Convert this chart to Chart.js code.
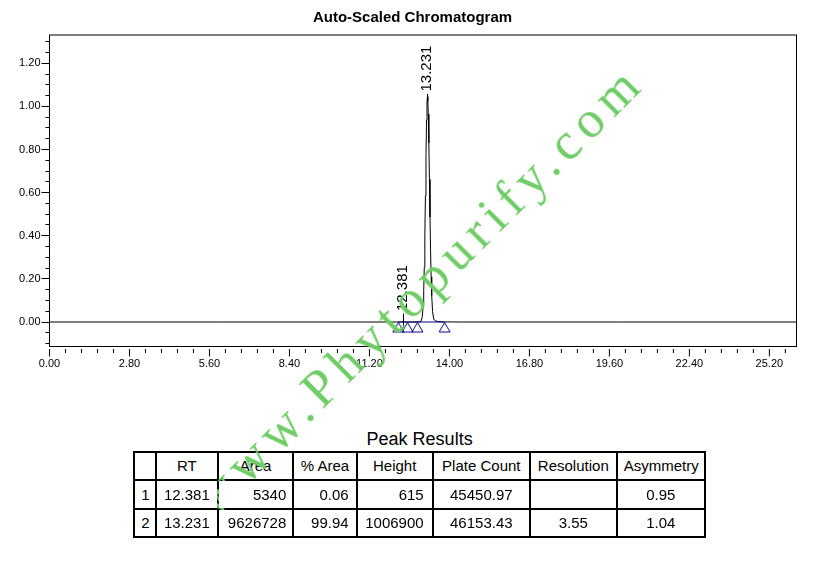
<!DOCTYPE html>
<html>
<head>
<meta charset="utf-8">
<script src="https://cdn.jsdelivr.net/npm/chart.js@4.4.0/dist/chart.umd.min.js"></script>
<style>
html, body { margin: 0; padding: 0; background: #fff; }
body { width: 825px; height: 584px; position: relative; overflow: hidden; font-family: "Liberation Sans", Arial, sans-serif; color: #000; }
#wrap { position: absolute; left: 0; top: 0; width: 825px; height: 390px; }
#results { position: absolute; left: 133.3px; top: 429px; }
#results table { border-collapse: collapse; table-layout: fixed; width: 570.7px; }
#results caption { font-size: 18px; line-height: 20px; height: 22px; text-align: center; white-space: nowrap; }
#results td { border: 2px solid #000; height: 26.3px; padding: 0 6px; font-size: 15px; line-height: 17px; white-space: nowrap; }
#results thead td { text-align: center; padding-bottom: 2px; height: 24.3px; }
#results tbody td { position: relative; z-index: 2; background: #fff; }
#results .c { text-align: center; }
#results .r { text-align: right; }
#wm { position: absolute; left: 215px; top: 518px; font-family: "Liberation Serif", "Times New Roman", serif;
      font-size: 52px; line-height: 52px; letter-spacing: 7.5px; color: #6fcc66; white-space: nowrap;
      transform-origin: 0 0; transform: rotate(-45deg) translateY(-43.5px); z-index: 1; pointer-events: none; }
</style>
</head>
<body>
<div id="wrap"><canvas id="c"></canvas></div>
<div id="results"></div>
<div id="wm">www.Phytopurify.com</div>
<script>
// ---- chromatogram trace (time in min, signal) ----
const traceTime = [0.00, 1.00, 3.00, 6.00, 9.00, 11.00, 12.00, 12.30, 12.381, 12.45,
  12.70, 12.90, 13.00, 13.05, 13.08, 13.10, 13.12, 13.14, 13.16, 13.18,
  13.20, 13.215, 13.231, 13.245, 13.26, 13.28, 13.30, 13.32, 13.34, 13.36,
  13.38, 13.41, 13.45, 13.50, 13.60, 13.80, 14.50, 17.00, 20.00, 23.00, 26.15];
const traceSignal = [0, 0, 0, 0, 0, 0, 0, 0, 0.0006, 0,
  0, 0.0005, 0.002, 0.024, 0.076, 0.146, 0.254, 0.404, 0.586, 0.776,
  0.937, 1.016, 1.046, 1.026, 0.964, 0.830, 0.661, 0.487, 0.333, 0.210,
  0.123, 0.048, 0.014, 0.006, 0.002, 0.0005, 0, 0, 0, 0, 0];

// ---- integration marks ----
const markerTime = [12.21, 12.53, 12.88, 13.83];
const markerSignal = [0, 0, 0, 0];
const integrationTime = [12.21, 13.83];
const integrationSignal = [0, 0];

// ---- peak labels ----
const peakLabels = ['12.381', '13.231'];
const peakApexSignal = [0.0006, 1.046];

// ---- axes ----
const xMin = 0, xMax = 26.15;
const yMin = -0.1136, yMax = 1.3312;
const xMajorTicks = [0, 2.8, 5.6, 8.4, 11.2, 14.0, 16.8, 19.6, 22.4, 25.2];
const yMajorTicks = [0, 0.2, 0.4, 0.6, 0.8, 1.0, 1.2];
const xMinorStep = 0.56, xMinorPerMajor = 5;
const yMinorStep = 0.05, yMinorPerMajor = 4;

// ---- peak results table ----
const peakNo = [1, 2];
const peakRT = [12.381, 13.231];
const peakArea = [5340, 9626728];
const peakPctArea = [0.06, 99.94];
const peakHeight = [615, 1006900];
const peakPlateCount = [45450.97, 46153.43];
const peakResolution = [null, 3.55];
const peakAsymmetry = [0.95, 1.04];
const tableHeaders = ['', 'RT', 'Area', '% Area', 'Height', 'Plate Count', 'Resolution', 'Asymmetry'];
const colWidths = [21.7, 61.7, 75.6, 63.4, 76, 97.3, 86.7, 88.3];

// build table
(function () {
  let h = '<table><caption>Peak Results</caption><colgroup>';
  colWidths.forEach(w => { h += '<col style="width:' + w + 'px">'; });
  h += '</colgroup><thead><tr>';
  tableHeaders.forEach(t => { h += '<td>' + t + '</td>'; });
  h += '</tr></thead><tbody>';
  peakNo.forEach((n, i) => {
    h += '<tr>';
    h += '<td class="c">' + n + '</td>';
    h += '<td class="c">' + peakRT[i].toFixed(3) + '</td>';
    h += '<td class="r">' + peakArea[i] + '</td>';
    h += '<td class="r" style="padding-right:7px">' + peakPctArea[i].toFixed(2) + '</td>';
    h += '<td class="r" style="padding-right:8px">' + peakHeight[i] + '</td>';
    h += '<td class="c">' + peakPlateCount[i].toFixed(2) + '</td>';
    h += '<td class="c">' + (peakResolution[i] == null ? '' : peakResolution[i].toFixed(2)) + '</td>';
    h += '<td class="c">' + peakAsymmetry[i].toFixed(2) + '</td>';
    h += '</tr>';
  });
  h += '</tbody></table>';
  document.getElementById('results').innerHTML = h;
})();

// triangle marker (apex at centre, base below)
const tri = document.createElement('canvas');
tri.width = 13; tri.height = 22;
(function () {
  const g = tri.getContext('2d');
  g.strokeStyle = '#000080'; g.lineWidth = 1;
  g.beginPath();
  g.moveTo(6.5, 11.5); g.lineTo(12, 21); g.lineTo(1, 21); g.closePath();
  g.stroke();
})();

const FONT = '"Liberation Sans", Arial, sans-serif';
Chart.defaults.font.family = FONT;

const overlay = {
  id: 'overlay',
  afterDraw(chart) {
    const { ctx, chartArea: a, scales: { x, y } } = chart;
    ctx.save();
    ctx.strokeStyle = '#000';
    ctx.lineWidth = 1;
    // plot frame
    ctx.strokeRect(a.left, a.top, a.right - a.left, a.bottom - a.top);
    // x tick marks
    ctx.beginPath();
    for (let i = 0; i * xMinorStep <= xMax + 1e-9; i++) {
      const px = x.getPixelForValue(i * xMinorStep);
      const len = (i % xMinorPerMajor === 0) ? 7.5 : 4;
      ctx.moveTo(px, a.bottom + 2.5);
      ctx.lineTo(px, a.bottom + 2.5 + len);
    }
    // y tick marks
    for (let j = Math.ceil(yMin / yMinorStep); j * yMinorStep <= yMax + 1e-9; j++) {
      const py = Math.round(y.getPixelForValue(j * yMinorStep) - 0.5) + 0.5;
      const len = (j % yMinorPerMajor === 0) ? 8 : 4;
      ctx.moveTo(a.left - len, py);
      ctx.lineTo(a.left, py);
    }
    ctx.stroke();
    // peak labels
    const basePx = y.getPixelForValue(0);
    ctx.fillStyle = '#000';
    ctx.font = '15px ' + FONT;
    ctx.textAlign = 'left';
    ctx.textBaseline = 'middle';
    peakLabels.forEach((lab, i) => {
      const px = x.getPixelForValue(parseFloat(lab));
      const apex = y.getPixelForValue(peakApexSignal[i]);
      const bottom = Math.min(apex - 5, basePx - 11);
      ctx.save();
      ctx.translate(px - 0.5, bottom);
      ctx.rotate(-Math.PI / 2);
      ctx.fillText(lab, 0, 0);
      ctx.restore();
      ctx.beginPath();
      const lx = Math.round(px) + 0.5;
      ctx.moveTo(lx, bottom + 2.5);
      ctx.lineTo(lx, apex + 6);
      ctx.stroke();
    });
    ctx.restore();
  }
};

new Chart(document.getElementById('c'), {
  type: 'line',
  data: {
    datasets: [
      {
        label: 'markers',
        data: markerTime.map((t, i) => ({ x: t, y: markerSignal[i] })),
        showLine: false, pointStyle: tri, pointRadius: 6, order: 0
      },
      {
        label: 'baseline',
        data: integrationTime.map((t, i) => ({ x: t, y: integrationSignal[i] })),
        borderColor: '#000080', borderWidth: 1, pointRadius: 0, order: 1
      },
      {
        label: 'trace',
        data: traceTime.map((t, i) => ({ x: t, y: traceSignal[i] })),
        borderColor: '#000', borderWidth: 1, pointRadius: 0, order: 2
      }
    ]
  },
  options: {
    responsive: true,
    maintainAspectRatio: false,
    animation: false,
    events: [],
    layout: { padding: 0 },
    plugins: {
      legend: { display: false },
      tooltip: { enabled: false },
      title: {
        display: true,
        text: 'Auto-Scaled Chromatogram',
        color: '#000',
        font: { family: FONT, size: 15, weight: 'bold' },
        padding: { top: 9, bottom: 8 }
      }
    },
    scales: {
      x: {
        type: 'linear', min: xMin, max: xMax,
        grid: { display: false, drawTicks: false },
        border: { display: false },
        afterBuildTicks: s => { s.ticks = xMajorTicks.map(v => ({ value: v })); },
        afterFit: s => { s.height = 43.5; },
        ticks: {
          autoSkip: false, maxRotation: 0, minRotation: 0, padding: 11, color: '#000',
          font: { family: FONT, size: 11 },
          callback: v => Number(v).toFixed(2)
        }
      },
      y: {
        type: 'linear', min: yMin, max: yMax,
        grid: { display: false, drawTicks: false },
        border: { display: false },
        afterBuildTicks: s => { s.ticks = yMajorTicks.map(v => ({ value: v })); },
        afterFit: s => { s.width = 49.5; },
        ticks: {
          autoSkip: false, padding: 9, color: '#000',
          font: { family: FONT, size: 11 },
          callback: v => Number(v).toFixed(2)
        }
      },
      yRight: {
        type: 'linear', position: 'right', min: yMin, max: yMax, display: true,
        grid: { display: false, drawTicks: false },
        border: { display: false },
        ticks: { display: false },
        afterFit: s => { s.width = 28.5; }
      }
    }
  },
  plugins: [overlay]
});
</script>
</body>
</html>
